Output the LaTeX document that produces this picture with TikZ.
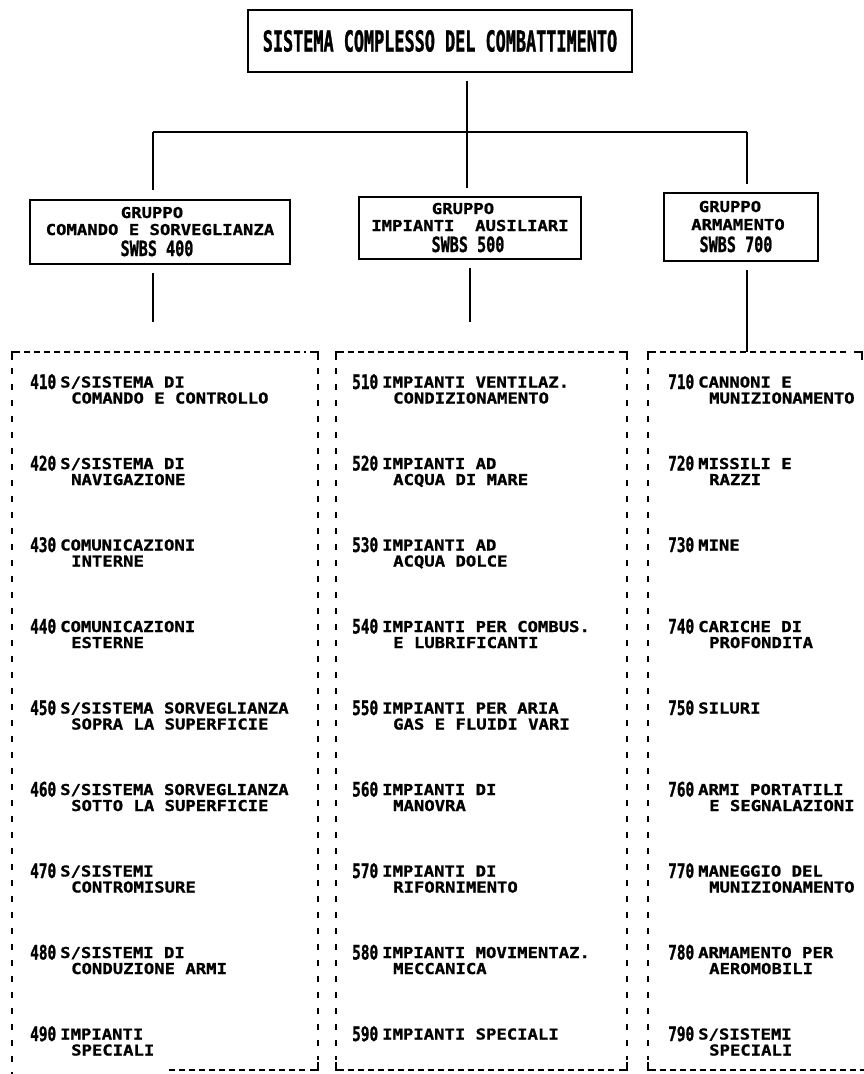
\documentclass[tikz,border=0pt]{standalone}
\usepackage{fontspec}
\newfontfamily\itemfont{DejaVu Sans Mono}[FakeStretch=1.15,FakeBold=1]
\newfontfamily\numfont{DejaVu Sans Mono}[FakeStretch=0.72,FakeBold=1]
\newfontfamily\titlefont{DejaVu Sans Mono}[FakeStretch=0.58,FakeBold=1]
\newcommand\entryB[6]{%
  \node[ntx] (n#1) at (#2,#3+7) {#4};
  \node[itx] (a#1) at (#2+30,#3+5.5) {#5};
  \node[itx] (b#1) at (#2+41,#3+21.5) {#6};
}
\newcommand\entryA[5]{%
  \node[ntx] (n#1) at (#2,#3+7) {#4};
  \node[itx] (a#1) at (#2+30,#3+5.5) {#5};
}
\begin{document}
\begin{tikzpicture}[x=1pt,y=-1pt,
  conn/.style={line width=1.5pt},
  sbox/.style={draw, line width=1.6pt, inner sep=0pt},
  hd/.style={line width=1.6pt, dash pattern=on 6pt off 4pt},
  vd/.style={line width=1.7pt, dash pattern=on 6pt off 10pt},
  cornerline/.style={line width=1.6pt},
  ttl/.style={font={\titlefont\bfseries\fontsize{29}{29}\selectfont}},
  itx/.style={font={\itemfont\bfseries\fontsize{15}{16}\selectfont}, inner sep=0pt, anchor=base west},
  ntx/.style={font={\numfont\bfseries\fontsize{20}{20}\selectfont}, inner sep=0pt, anchor=base west},
  gtx/.style={font={\itemfont\bfseries\fontsize{15}{16}\selectfont}, inner sep=0pt, anchor=base},
  gnum/.style={font={\numfont\bfseries\fontsize{21}{21}\selectfont}, inner sep=0pt, anchor=base},
]
\fill[white] (0,0) rectangle (864,1074);
\useasboundingbox (0,0) rectangle (864,1074);

% top box
\node[sbox, ttl, minimum width=384pt, minimum height=62pt] (top) at (440,41) {SISTEMA COMPLESSO DEL COMBATTIMENTO};

% group boxes
\node[sbox, minimum width=260pt, minimum height=64pt] (g4) at (160,232) {};
\node[sbox, minimum width=222pt, minimum height=62pt] (g5) at (470,228) {};
\node[sbox, minimum width=154pt, minimum height=68pt] (g7) at (741,227) {};

\node[gtx] (g4a) at (152,218) {GRUPPO};
\node[gtx] (g4b) at (160,235) {COMANDO E SORVEGLIANZA};
\node[gnum] (g4c) at (157,256) {SWBS 400};
\node[gtx] (g5a) at (463,214) {GRUPPO};
\node[gtx] (g5b) at (470,231) {IMPIANTI~~AUSILIARI};
\node[gnum] (g5c) at (468,252) {SWBS 500};
\node[gtx] (g7a) at (730,212) {GRUPPO};
\node[gtx] (g7b) at (738,230) {ARMAMENTO};
\node[gnum] (g7c) at (736,252) {SWBS 700};

% connectors
\coordinate (jl) at (153,132);
\coordinate (jc) at (467,132);
\coordinate (jr) at (747,132);
\coordinate (d4) at (153,322);
\coordinate (d5) at (470,322);
\coordinate (d7) at (747,352);
\draw[conn] (jl) -- (jr);
\draw[conn, shorten <=8pt] (top.south -| jc) -- ([yshift=-6pt]jc);
\draw[conn, shorten >=9pt] (jl) -- (jl |- g4.north);
\draw[conn, shorten >=8pt] (jc) -- (jc |- g5.north);
\draw[conn, shorten >=8pt] (jr) -- (jr |- g7.north);
\draw[conn, shorten <=8pt] (g4.south -| d4) -- (d4);
\draw[conn, shorten <=8pt] (g5.south -| d5) -- (d5);
\draw[conn, shorten <=8pt] (g7.south -| d7) -- (d7);

% dashed box 400
\draw[cornerline] (12,360) -- (12,352) -- (20,352);
\draw[hd] (24,352) -- (306,352);
\draw[cornerline] (310,352) -- (318,352) -- (318,360);
\draw[vd] (12,368) -- (12,1074);
\draw[vd] (318,368) -- (318,1060);
\draw[cornerline] (318,1062) -- (318,1070) -- (310,1070);
\draw[hd] (305,1070) -- (167,1070);

% dashed box 500
\draw[cornerline] (336,360) -- (336,352) -- (344,352);
\draw[hd] (348,352) -- (615,352);
\draw[cornerline] (619,352) -- (627,352) -- (627,360);
\draw[vd] (336,368) -- (336,1060);
\draw[vd] (627,368) -- (627,1060);
\draw[cornerline] (336,1062) -- (336,1070) -- (344,1070);
\draw[hd] (348,1070) -- (615,1070);
\draw[cornerline] (619,1070) -- (627,1070) -- (627,1062);

% dashed box 700
\draw[cornerline] (648,360) -- (648,352) -- (656,352);
\draw[hd] (660,352) -- (850,352);
\draw[cornerline] (854,352) -- (862,352) -- (862,360);
\draw[vd] (648,368) -- (648,1060);
\draw[cornerline] (648,1062) -- (648,1070) -- (656,1070);
\draw[hd] (660,1070) -- (864,1070);

% entries 400
\entryB{410}{30}{382}{410}{S/SISTEMA DI}{COMANDO E CONTROLLO}
\entryB{420}{30}{463.5}{420}{S/SISTEMA DI}{NAVIGAZIONE}
\entryB{430}{30}{545}{430}{COMUNICAZIONI}{INTERNE}
\entryB{440}{30}{626.5}{440}{COMUNICAZIONI}{ESTERNE}
\entryB{450}{30}{708}{450}{S/SISTEMA SORVEGLIANZA}{SOPRA LA SUPERFICIE}
\entryB{460}{30}{789.5}{460}{S/SISTEMA SORVEGLIANZA}{SOTTO LA SUPERFICIE}
\entryB{470}{30}{871}{470}{S/SISTEMI}{CONTROMISURE}
\entryB{480}{30}{952.5}{480}{S/SISTEMI DI}{CONDUZIONE ARMI}
\entryB{490}{30}{1034}{490}{IMPIANTI}{SPECIALI}

% entries 500
\entryB{510}{352}{382}{510}{IMPIANTI VENTILAZ.}{CONDIZIONAMENTO}
\entryB{520}{352}{463.5}{520}{IMPIANTI AD}{ACQUA DI MARE}
\entryB{530}{352}{545}{530}{IMPIANTI AD}{ACQUA DOLCE}
\entryB{540}{352}{626.5}{540}{IMPIANTI PER COMBUS.}{E LUBRIFICANTI}
\entryB{550}{352}{708}{550}{IMPIANTI PER ARIA}{GAS E FLUIDI VARI}
\entryB{560}{352}{789.5}{560}{IMPIANTI DI}{MANOVRA}
\entryB{570}{352}{871}{570}{IMPIANTI DI}{RIFORNIMENTO}
\entryB{580}{352}{952.5}{580}{IMPIANTI MOVIMENTAZ.}{MECCANICA}
\entryA{590}{352}{1034}{590}{IMPIANTI SPECIALI}

% entries 700
\entryB{710}{668}{382}{710}{CANNONI E}{MUNIZIONAMENTO}
\entryB{720}{668}{463.5}{720}{MISSILI E}{RAZZI}
\entryA{730}{668}{545}{730}{MINE}
\entryB{740}{668}{626.5}{740}{CARICHE DI}{PROFONDITA}
\entryA{750}{668}{708}{750}{SILURI}
\entryB{760}{668}{789.5}{760}{ARMI PORTATILI}{E SEGNALAZIONI}
\entryB{770}{668}{871}{770}{MANEGGIO DEL}{MUNIZIONAMENTO}
\entryB{780}{668}{952.5}{780}{ARMAMENTO PER}{AEROMOBILI}
\entryB{790}{668}{1034}{790}{S/SISTEMI}{SPECIALI}
\end{tikzpicture}
\end{document}
